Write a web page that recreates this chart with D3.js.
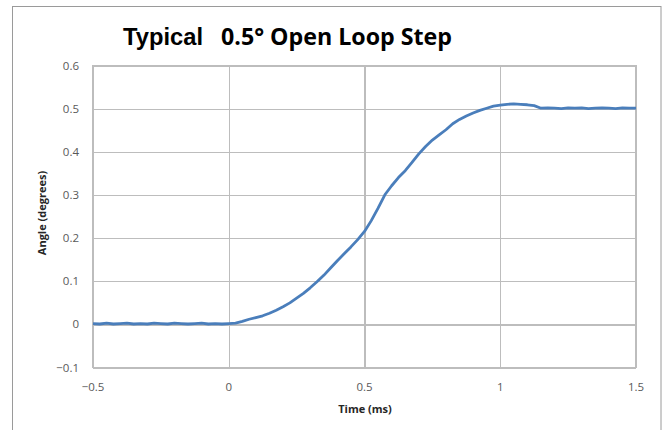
<!DOCTYPE html>
<html>
<head>
<meta charset="utf-8">
<script src="https://cdn.jsdelivr.net/npm/d3@7"></script>
<style>
  html, body { margin: 0; padding: 0; background: #fff; }
  svg { display: block; }
</style>
</head>
<body>
<svg id="chart" width="663" height="430"></svg>
<script>
const titleLead = "Typical";
const titleMain = "0.5° Open Loop Step";
const xTitle = "Time (ms)";
const yTitle = "Angle (degrees)";
const xTicks = [-0.5, 0, 0.5, 1, 1.5];
const yTicks = [-0.1, 0, 0.1, 0.2, 0.3, 0.4, 0.5, 0.6];

const timeMs = [
  -0.5, -0.475, -0.45, -0.425, -0.4, -0.375, -0.35, -0.325, -0.3, -0.275,
  -0.25, -0.225, -0.2, -0.175, -0.15, -0.125, -0.1, -0.075, -0.05, -0.025,
  0, 0.025, 0.05, 0.075, 0.1, 0.125, 0.15, 0.175, 0.2, 0.225,
  0.25, 0.275, 0.3, 0.325, 0.35, 0.375, 0.4, 0.425, 0.45, 0.475,
  0.5, 0.525, 0.55, 0.575, 0.6, 0.625, 0.65, 0.675, 0.7, 0.725,
  0.75, 0.775, 0.8, 0.825, 0.85, 0.875, 0.9, 0.925, 0.95, 0.975,
  1, 1.025, 1.05, 1.075, 1.1, 1.125, 1.15, 1.175, 1.2, 1.225,
  1.25, 1.275, 1.3, 1.325, 1.35, 1.375, 1.4, 1.425, 1.45, 1.475, 1.5
];
const angleDeg = [
  0.002, 0.001, 0.003, 0.001, 0.002, 0.003, 0.001, 0.002, 0.001, 0.003,
  0.002, 0.001, 0.003, 0.002, 0.001, 0.002, 0.003, 0.001, 0.002, 0.001,
  0.002, 0.003, 0.007, 0.012, 0.016, 0.020, 0.026, 0.033, 0.041, 0.050,
  0.061, 0.072, 0.085, 0.099, 0.114, 0.131, 0.148, 0.164, 0.180, 0.197,
  0.216, 0.241, 0.270, 0.301, 0.322, 0.341, 0.357, 0.376, 0.396, 0.413,
  0.428, 0.440, 0.452, 0.466, 0.476, 0.484, 0.491, 0.497, 0.502, 0.507,
  0.509, 0.511, 0.512, 0.511, 0.510, 0.508, 0.502, 0.503, 0.502, 0.501,
  0.503, 0.502, 0.503, 0.501, 0.502, 0.503, 0.502, 0.501, 0.503, 0.502, 0.502
];

const svg = d3.select("#chart");
const plot = { left: 93, right: 636, top: 66, bottom: 367.5 };

// outer frame
svg.append("rect")
  .attr("x", 12.5).attr("y", 6.5)
  .attr("width", 648.5).attr("height", 500)
  .attr("fill", "none").attr("stroke", "#9a9a9a").attr("stroke-width", 1);

const x = d3.scaleLinear().domain([-0.5, 1.5]).range([plot.left, plot.right]);
const y = d3.scaleLinear().domain([-0.1, 0.6]).range([plot.bottom, plot.top]);

// gridlines via axes
const gx = svg.append("g")
  .attr("transform", `translate(0,${plot.bottom})`)
  .call(d3.axisBottom(x).tickValues(xTicks).tickSize(-(plot.bottom - plot.top)).tickFormat(""));
const gy = svg.append("g")
  .attr("transform", `translate(${plot.left},0)`)
  .call(d3.axisLeft(y).tickValues(yTicks).tickSize(-(plot.right - plot.left)).tickFormat(""));
[gx, gy].forEach(g => {
  g.select(".domain").remove();
  g.selectAll(".tick line").attr("stroke", "#bdbdbd").attr("stroke-width", 1.2).attr("shape-rendering", "crispEdges");
});

// plot border
svg.append("rect")
  .attr("x", plot.left).attr("y", plot.top)
  .attr("width", plot.right - plot.left).attr("height", plot.bottom - plot.top)
  .attr("fill", "none").attr("stroke", "#bdbdbd").attr("stroke-width", 1.2)
  .attr("shape-rendering", "crispEdges");

// tick labels
const labFont = "'Open Sans', 'Noto Sans', sans-serif";
svg.append("g").selectAll("text").data(xTicks).join("text")
  .attr("x", d => x(d)).attr("y", 391)
  .attr("text-anchor", "middle")
  .attr("font-family", labFont).attr("font-size", 11.5).attr("fill", "#595959")
  .text(d => d3.format("")(d));
svg.append("g").selectAll("text").data(yTicks).join("text")
  .attr("x", 79).attr("y", d => y(d) + 4)
  .attr("text-anchor", "end")
  .attr("font-family", labFont).attr("font-size", 11.5).attr("fill", "#595959")
  .text(d => d3.format("")(d));

// axis titles
svg.append("text")
  .attr("x", 365).attr("y", 413)
  .attr("text-anchor", "middle")
  .attr("font-family", labFont).attr("font-weight", "bold").attr("font-size", 11).attr("fill", "#262626")
  .text(xTitle);
svg.append("text")
  .attr("transform", `translate(46,213) rotate(-90)`)
  .attr("text-anchor", "middle")
  .attr("font-family", labFont).attr("font-weight", "bold").attr("font-size", 11).attr("fill", "#262626")
  .text(yTitle);

// title
svg.append("text")
  .attr("x", 123).attr("y", 44.5)
  .attr("font-family", "'Liberation Sans', Arial, sans-serif").attr("font-weight", "bold")
  .attr("font-size", 24).attr("fill", "#000")
  .attr("textLength", 80).attr("lengthAdjust", "spacingAndGlyphs")
  .text(titleLead);
svg.append("text")
  .attr("x", 221).attr("y", 44.5)
  .attr("font-family", "'Open Sans', 'Noto Sans', sans-serif").attr("font-weight", "bold")
  .attr("font-size", 24).attr("fill", "#000")
  .attr("textLength", 231).attr("lengthAdjust", "spacingAndGlyphs")
  .text(titleMain);

// data line
const pts = timeMs.map((t, i) => [t, angleDeg[i]]);
svg.append("path")
  .datum(pts)
  .attr("fill", "none")
  .attr("stroke", "#4a7ebb")
  .attr("stroke-width", 2.8)
  .attr("stroke-linejoin", "round")
  .attr("d", d3.line().x(d => x(d[0])).y(d => y(d[1])));
</script>
</body>
</html>
